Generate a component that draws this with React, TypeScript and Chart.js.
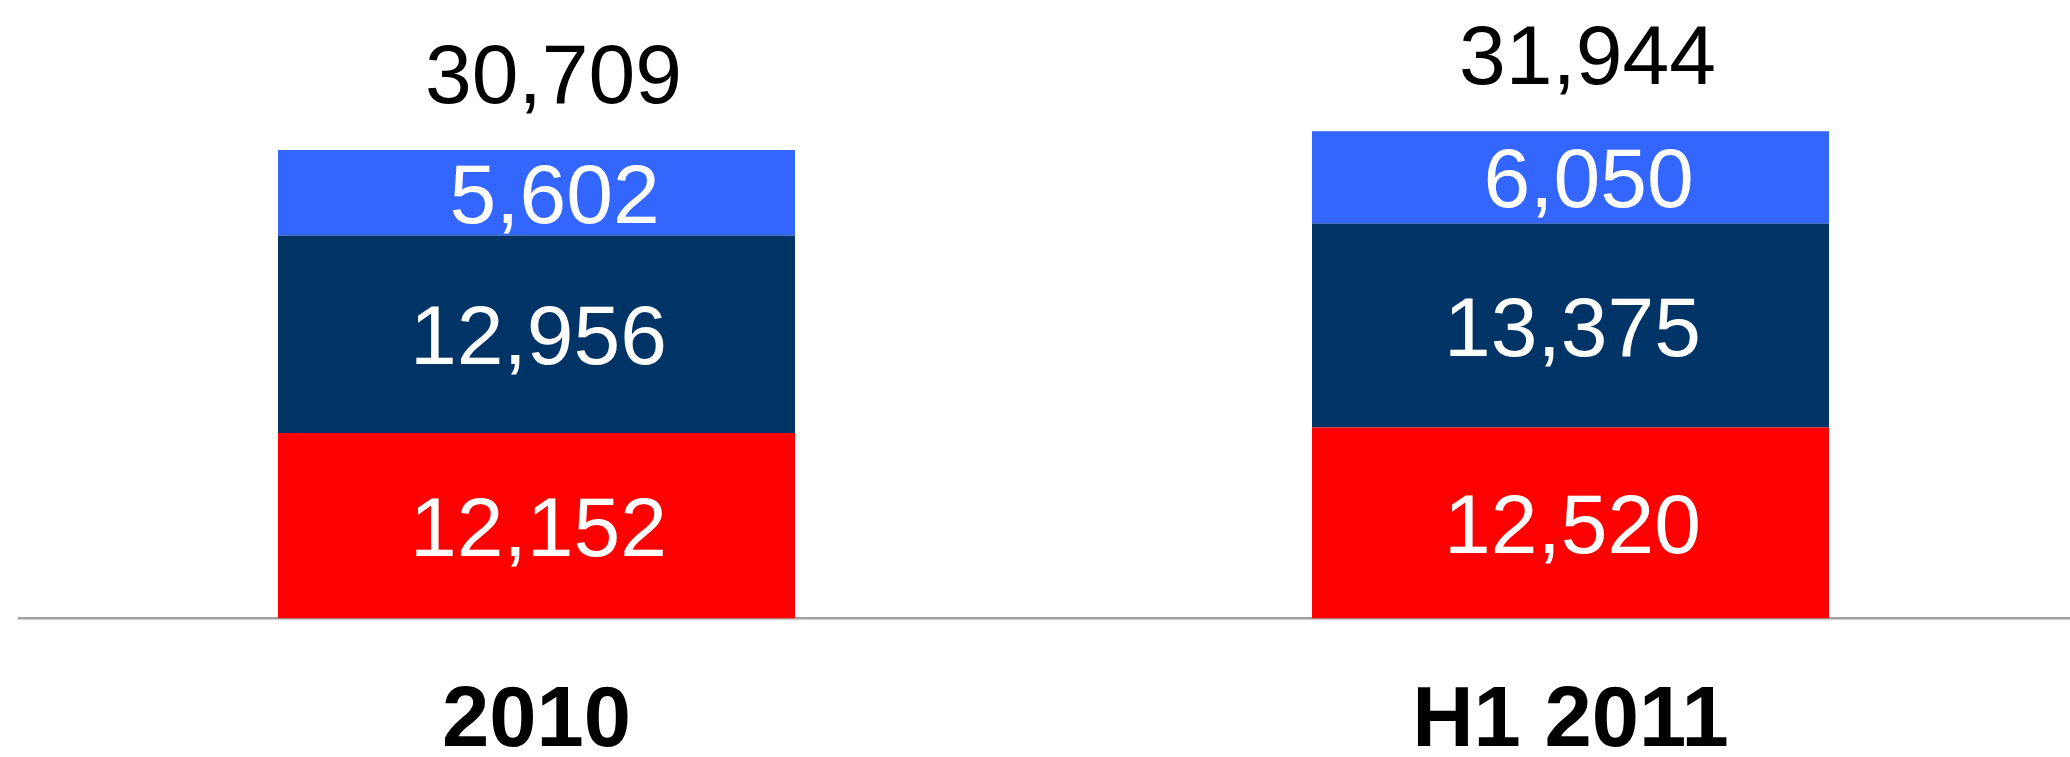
import React, { useEffect, useRef } from "react";
import { Chart, registerables } from "chart.js";

Chart.register(...registerables);

const categories = ["2010", "H1 2011"];
const seriesRed = [12152, 12520];
const seriesNavy = [12956, 13375];
const seriesBlue = [5602, 6050];
const totals = [30709, 31944];

const FONT = '"Liberation Sans", Arial, Helvetica, sans-serif';

const fmt = (v: number) => v.toLocaleString("en-US");

const labelPlugin = {
  id: "stackLabels",
  afterDatasetsDraw(chart: any) {
    const ctx = chart.ctx;
    ctx.save();
    ctx.textAlign = "center";
    const n = chart.data.datasets.length;
    chart.data.datasets.forEach((ds: any, di: number) => {
      const meta = chart.getDatasetMeta(di);
      const dx = di === n - 1 ? 18 : 2;
      meta.data.forEach((el: any, i: number) => {
        const v = ds.data[i];
        ctx.fillStyle = "#ffffff";
        ctx.font = `84px ${FONT}`;
        ctx.textBaseline = "middle";
        ctx.fillText(fmt(v), el.x + dx, (el.y + el.base) / 2 + 7);
      });
    });
    const topMeta = chart.getDatasetMeta(n - 1);
    topMeta.data.forEach((el: any, i: number) => {
      ctx.fillStyle = "#000000";
      ctx.font = `84px ${FONT}`;
      ctx.textBaseline = "alphabetic";
      ctx.fillText(fmt(totals[i]), el.x + 17, el.y - 47);
    });
    ctx.restore();
  },
};

export default function App() {
  const ref = useRef<HTMLCanvasElement | null>(null);
  useEffect(() => {
    if (!ref.current) return;
    const chart = new Chart(ref.current, {
      type: "bar",
      data: {
        labels: categories,
        datasets: [
          { label: "Red", data: seriesRed, backgroundColor: "#ff0000", borderWidth: 0 },
          { label: "Navy", data: seriesNavy, backgroundColor: "#003366", borderWidth: 0 },
          { label: "Blue", data: seriesBlue, backgroundColor: "#3366ff", borderWidth: 0 },
        ],
      },
      options: {
        responsive: false,
        animation: false,
        layout: { padding: { left: 19.5, right: 2.5, top: 8.3, bottom: -70.5 } },
        datasets: { bar: { categoryPercentage: 1, barPercentage: 0.5 } },
        plugins: { legend: { display: false }, tooltip: { enabled: false } },
        scales: {
          x: {
            stacked: true,
            grid: { display: false, drawTicks: false },
            border: { display: true, color: "#a0a0a0", width: 2.5 },
            ticks: {
              color: "#000000",
              padding: 65,
              font: { family: FONT, size: 85, weight: "bold", lineHeight: 79 / 85 },
            },
          },
          y: {
            stacked: true,
            display: false,
            min: 0,
            max: 40000,
          },
        },
      },
      plugins: [labelPlugin],
    });
    return () => chart.destroy();
  }, []);
  return (
    <div
      style={{
        position: "absolute",
        left: 0,
        top: 0,
        width: 2070,
        height: 757,
        overflow: "hidden",
        background: "#ffffff",
      }}
    >
      <canvas ref={ref} width={2090} height={757} style={{ display: "block" }} />
    </div>
  );
}
